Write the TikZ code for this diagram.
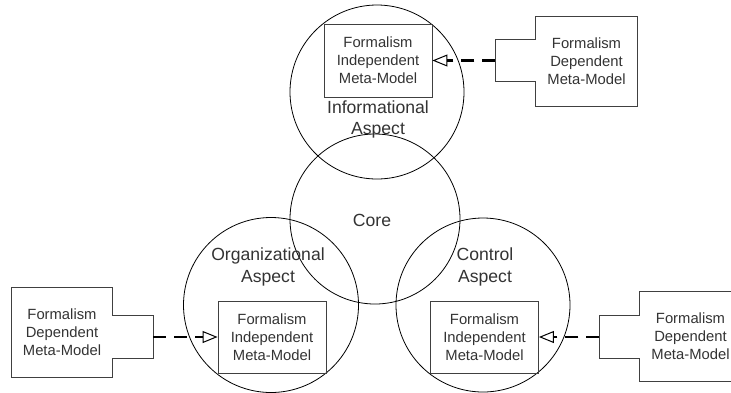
\documentclass[tikz,border=0pt]{standalone}
\usepackage{fontspec}
\setmainfont{Liberation Sans}
\usetikzlibrary{arrows.meta}
\begin{document}
\begin{tikzpicture}[x=1pt,y=-1pt,
  ring/.style={circle,draw=black,line width=0.8pt,inner sep=0pt,minimum size=#1},
  boxtext/.style={align=center,text=black!80,font=\fontsize{14.8}{18}\selectfont,inner sep=0pt},
  labeltext/.style={align=center,text=black!80,font=\fontsize{17.6}{21.5}\selectfont,inner sep=0pt},
  fimbox/.style={boxtext,draw=black!75,line width=0.9pt,minimum width=108pt,minimum height=72pt},
  fdmbox/.style={boxtext,minimum width=101pt,minimum height=89pt},
  notch/.style={inner sep=0pt,minimum width=40pt,minimum height=42pt},
  outline/.style={draw=black!75,line width=0.9pt},
  realizes/.style={line width=2.5pt,dash pattern=on 13pt off 8pt,
    -{Triangle[open,length=15pt,width=12pt,line width=1pt]}}
]
\useasboundingbox (0,0) rectangle (731,392);
\clip (0,0) rectangle (731,392);
% circles
\node[ring=174pt] (info) at (377,92) {};
\node[ring=170pt] (core) at (375,219) {};
\node[ring=175pt] (org) at (271,305) {};
\node[ring=174pt] (ctrl) at (483,305) {};
% circle labels
\node[labeltext] (infolab) at (378,119.5) {Informational\\Aspect};
\node[labeltext] (corelab) at (372,220) {Core};
\node[labeltext] (orglab) at (268,267) {Organizational\\Aspect};
\node[labeltext] (ctrllab) at (485,267) {Control\\Aspect};
% formalism independent boxes
\node[fimbox,minimum height=73pt] (fimT) at (378,60.5) {Formalism\\Independent\\Meta-Model};
\node[fimbox] (fimL) at (272,337) {Formalism\\Independent\\Meta-Model};
\node[fimbox] (fimR) at (484.5,337) {Formalism\\Independent\\Meta-Model};
% formalism dependent components
\node[fdmbox] (fdmT) at (586.5,61.5) {Formalism\\Dependent\\Meta-Model};
\node[notch,anchor=east] (nT) at (fdmT.west |- fimT.east) {};
\node[fdmbox] (fdmL) at (62,332.5) {Formalism\\Dependent\\Meta-Model};
\node[notch,anchor=west] (nL) at (fdmL.east |- fimL.west) {};
\node[fdmbox] (fdmR) at (690.5,336.5) {Formalism\\Dependent\\Meta-Model};
\node[notch,anchor=east] (nR) at (fdmR.west |- fimR.east) {};
% component outlines
\draw[outline] (fdmT.north west) -- (fdmT.north east) -- (fdmT.south east) -- (fdmT.south west)
  -- (fdmT.west |- nT.south) -- (nT.south west) -- (nT.north west) -- (fdmT.west |- nT.north) -- cycle;
\draw[outline] (fdmL.north east) -- (fdmL.north west) -- (fdmL.south west) -- (fdmL.south east)
  -- (fdmL.east |- nL.south) -- (nL.south east) -- (nL.north east) -- (fdmL.east |- nL.north) -- cycle;
\draw[outline] (fdmR.north west) -- (fdmR.north east) -- (fdmR.south east) -- (fdmR.south west)
  -- (fdmR.west |- nR.south) -- (nR.south west) -- (nR.north west) -- (fdmR.west |- nR.north) -- cycle;
% realization connectors
\draw[realizes] (nT.west) -- (fimT.east);
\draw[realizes] (nL.east) -- (fimL.west);
\draw[realizes] (nR.west) -- (fimR.east);
\end{tikzpicture}
\end{document}
